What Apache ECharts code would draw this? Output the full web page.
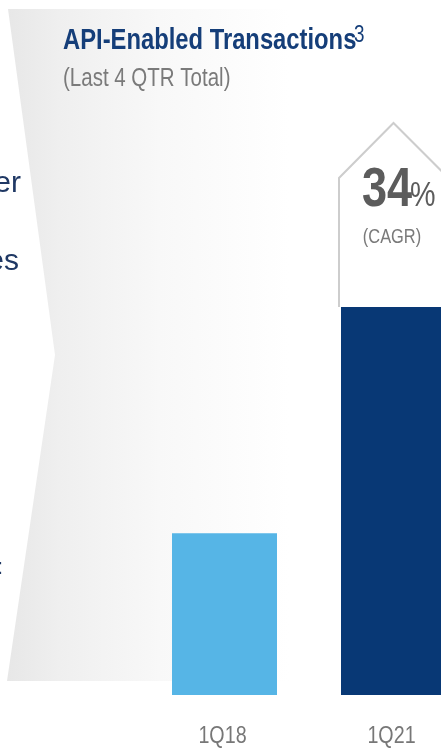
<!DOCTYPE html>
<html>
<head>
<meta charset="utf-8">
<script src="https://cdn.jsdelivr.net/npm/echarts@6/dist/echarts.min.js"></script>
<style>
html,body{margin:0;padding:0;background:#fff;}
#chart{width:441px;height:753px;}
</style>
</head>
<body>
<div id="chart"></div>
<script>
// Data
var categories = ['1Q18', '1Q21'];
var values = [10, 24];           // relative index (last 4 QTR total)
var barColors = ['#56b5e6', '#083875'];
var titleText = 'API-Enabled Transactions';
var titleSup = '3';
var subtitleText = '(Last 4 QTR Total)';
var cagrValue = '34';
var cagrLabel = '(CAGR)';

var SANS = '"Liberation Sans", Arial, sans-serif';
var NARROW_SCALE = 0.82;

var chart = echarts.init(document.getElementById('chart'), null, {renderer: 'canvas'});

var option = {
  backgroundColor: '#ffffff',
  animation: false,
  grid: {left: 140, top: 210, width: 338, bottom: 58, containLabel: false, outerBoundsMode: 'none'},
  xAxis: {
    type: 'category',
    data: categories,
    axisLine: {show: false},
    axisTick: {show: false},
    axisLabel: {show: false}
  },
  yAxis: {type: 'value', min: 0, max: 30, show: false, splitLine: {show: false}},
  series: [{
    type: 'bar',
    barWidth: 105,
    z: 5,
    data: values.map(function (v, i) { return {value: v, itemStyle: {color: barColors[i]}}; })
  }]
};
chart.setOption(option);

function narrowText(x, y, text, font, fill, align, z) {
  return {
    type: 'text', z: z || 10, silent: true,
    x: x, y: y, scaleX: NARROW_SCALE, scaleY: 1,
    style: {text: text, font: font, fill: fill, textAlign: align || 'left', verticalAlign: 'middle'}
  };
}

// Decorations tied to bar 2 position
var p2 = chart.convertToPixel({gridIndex: 0}, [1, values[1]]);
var cx = p2[0], topY = p2[1];
var half = 105 / 2;
var leftX = cx - half - 2;

var graphics = [
  {
    type: 'polygon', z: -10, silent: true,
    shape: {points: [[8, 9], [441, 9], [441, 681], [7, 681], [55, 355]]},
    style: {
      fill: {
        type: 'linear', x: 0, y: 0, x2: 1, y2: 0,
        colorStops: [
          {offset: 0, color: '#e7e7e7'},
          {offset: 0.12, color: '#efefef'},
          {offset: 0.35, color: '#f8f8f8'},
          {offset: 0.65, color: '#ffffff'},
          {offset: 1, color: '#ffffff'}
        ]
      }
    }
  },
  {
    type: 'polygon', z: 1, silent: true,
    shape: {points: [[leftX, topY], [leftX, 178], [cx, 123], [cx + 56, 179], [cx + 56, topY]]},
    style: {fill: '#ffffff'}
  },
  {
    type: 'polyline', z: 2, silent: true,
    shape: {points: [[leftX, topY], [leftX, 178], [cx, 123], [cx + 56, 179]]},
    style: {stroke: '#cdcdcd', lineWidth: 2, fill: null}
  },
  narrowText(362, 191, cagrValue, 'bold 55px ' + SANS, '#5c5c5c'),
  narrowText(410, 196, '%', '35px ' + SANS, '#5c5c5c'),
  narrowText(392, 237, cagrLabel, '20px ' + SANS, '#7a7a7a', 'center'),
  narrowText(63, 41, titleText, 'bold 29px ' + SANS, '#153e79'),
  narrowText(354, 36, titleSup, '23px ' + SANS, '#153e79'),
  narrowText(63, 79, subtitleText, '25px ' + SANS, '#7a7a7a'),
  {
    type: 'text', z: 10, silent: true, x: 21, y: 184,
    style: {text: 'er', font: '30px ' + SANS, fill: '#1f3864', textAlign: 'right', verticalAlign: 'middle'}
  },
  {
    type: 'text', z: 10, silent: true, x: 19, y: 262,
    style: {text: 'es', font: '30px ' + SANS, fill: '#1f3864', textAlign: 'right', verticalAlign: 'middle'}
  },
  {
    type: 'text', z: 10, silent: true, x: 3, y: 568,
    style: {text: ':', font: '22px ' + SANS, fill: '#1f3864', textAlign: 'right', verticalAlign: 'middle'}
  }
];

// Category labels placed under each bar from the axis scale
categories.forEach(function (c, i) {
  var p = chart.convertToPixel({gridIndex: 0}, [i, 0]);
  graphics.push(narrowText(p[0] - 2, p[1] + 41, c, '24px ' + SANS, '#777777', 'center'));
});

chart.setOption({graphic: graphics});
</script>
</body>
</html>
